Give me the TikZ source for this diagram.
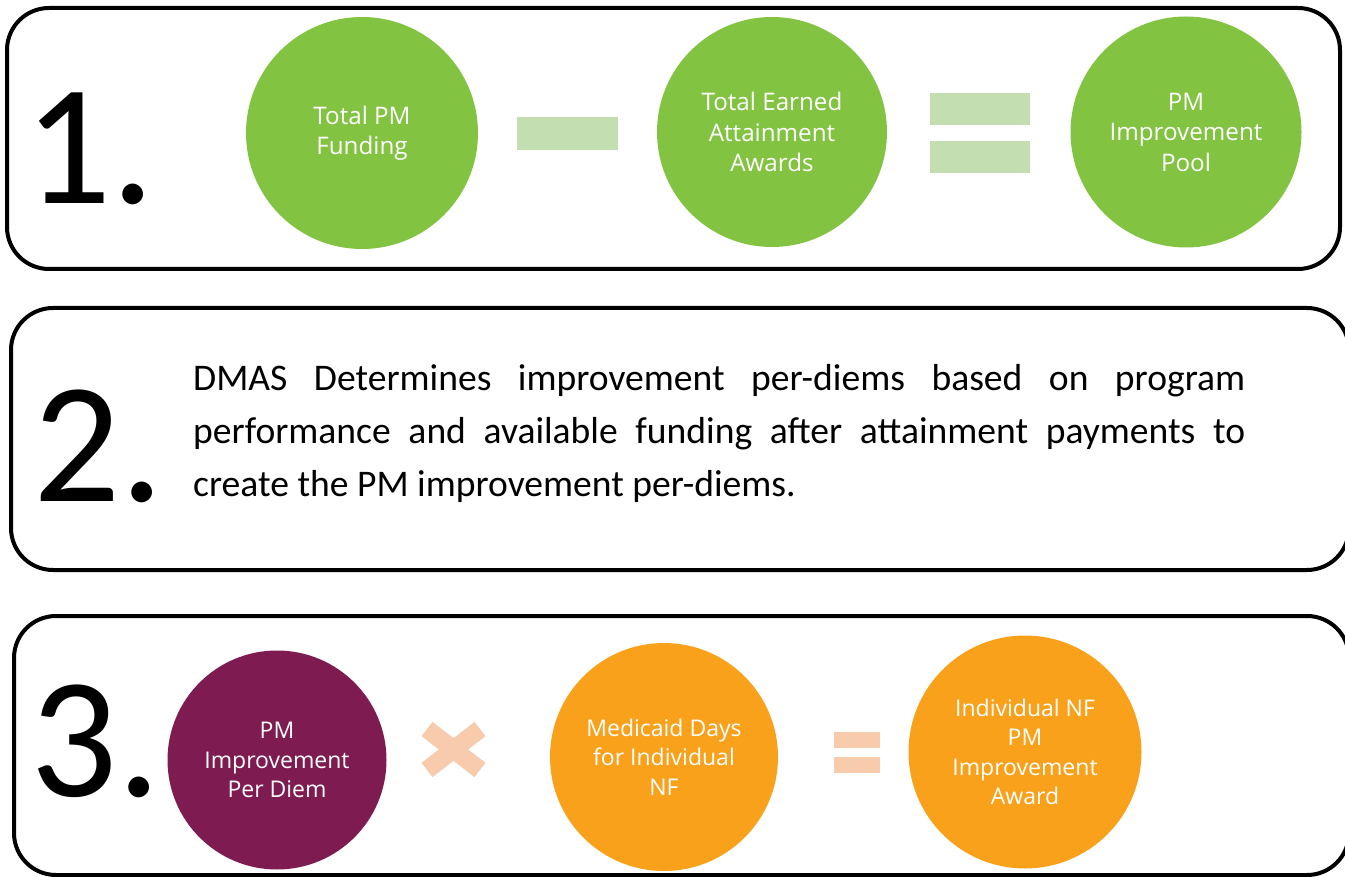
\documentclass[tikz,border=0pt]{standalone}
\usepackage{fontspec}
\setmainfont{Carlito}
\newfontfamily\circfont{Open Sans}
\definecolor{pmgreen}{HTML}{82C341}
\definecolor{pmlightgreen}{HTML}{C3DFB1}
\definecolor{pmpurple}{HTML}{7E1C51}
\definecolor{pmorange}{HTML}{F9A11B}
\definecolor{pmpeach}{HTML}{F8CBAD}
\tikzset{
  panel/.style={draw=black, line width=4pt, rounded corners=42pt, fill=none, inner sep=0pt},
  bignum/.style={anchor=base west, inner sep=0pt, font=\fontsize{172}{172}\selectfont},
  disc/.style={circle, inner sep=0pt, text=white, align=center},
  discA/.style={disc, font=\circfont\fontsize{24.2}{30.5}\selectfont},
  discB/.style={disc, font=\circfont\fontsize{23}{29.5}\selectfont},
  opbar/.style={rectangle, inner sep=0pt, draw=none},
}
\begin{document}
\begin{tikzpicture}[x=1pt,y=-1pt]
\useasboundingbox (0,0) rectangle (1345,877);
% panels
\node[panel, minimum width=1333pt, minimum height=261pt] (p1) at (673.5,138.5) {};
\node[panel, minimum width=1338pt, minimum height=262pt] (p2) at (680,439) {};
\node[panel, minimum width=1335pt, minimum height=259pt] (p3) at (681.5,745.5) {};
% numbers
\node[bignum] (n1) at (24,204) {1.};
\node[bignum] (n2) at (33,501) {2.};
\node[bignum] (n3) at (30,796) {3.};
% row 1
\node[discA, fill=pmgreen, minimum size=232pt] (c1) at (362,133) {Total PM\\Funding};
\node[discA, fill=pmgreen, minimum size=230pt] (c2) at (772,132) {Total Earned\\Attainment\\Awards};
\node[discA, fill=pmgreen, minimum size=231pt] (c3) at (1186,132) {PM\\Improvement\\Pool};
\node[opbar, fill=pmlightgreen, minimum width=101pt, minimum height=33pt] (minus) at (567.5,133.5) {};
\node[opbar, fill=pmlightgreen, minimum width=100pt, minimum height=32pt] (eqa) at (980,109) {};
\node[opbar, fill=pmlightgreen, minimum width=100pt, minimum height=32pt] (eqb) at (980,157.5) {};
% row 2
\node[anchor=base west, inner sep=0pt, text width=1052pt, align=justify,
      font=\fontsize{37.6}{53}\selectfont] (t2) at (193,391)
 {\hyphenpenalty=10000\exhyphenpenalty=10000
  DMAS Determines improvement per-diems based on program\linebreak
  performance and available funding after attainment payments to\linebreak
  create the PM improvement per-diems.};
% row 3
\node[discB, fill=pmpurple, minimum size=219pt] (c4) at (277,760) {PM\\Improvement\\Per Diem};
\node[discB, fill=pmorange, minimum size=228pt] (c5) at (664,757) {Medicaid Days\\for Individual\\NF};
\node[discB, fill=pmorange, minimum size=233pt] (c6) at (1025,752) {Individual NF\\PM\\Improvement\\Award};
\coordinate (xa) at (427,729);
\coordinate (xb) at (480,770);
\coordinate (xc) at (480,729);
\coordinate (xd) at (427,770);
\draw[pmpeach, line width=18pt] (xa) -- (xb);
\draw[pmpeach, line width=18pt] (xc) -- (xd);
\node[opbar, fill=pmpeach, minimum width=46pt, minimum height=16pt] (eq3a) at (857,740) {};
\node[opbar, fill=pmpeach, minimum width=46pt, minimum height=16pt] (eq3b) at (857,765) {};
\end{tikzpicture}
\end{document}
